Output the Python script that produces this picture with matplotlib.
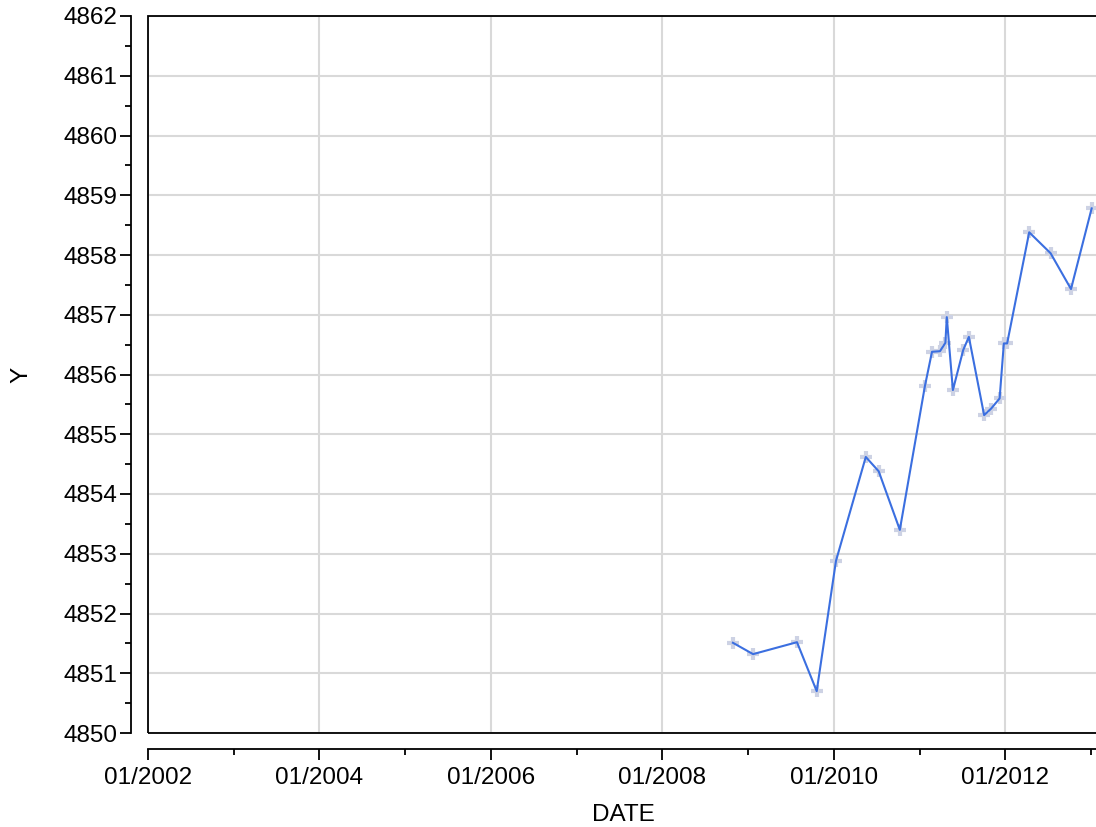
import numpy as np
import pandas as pd
import matplotlib
matplotlib.use("Agg")
import matplotlib.pyplot as plt
import matplotlib.dates as mdates
from matplotlib.patches import Rectangle

plt.rcParams['font.family'] = ['Liberation Sans', 'DejaVu Sans']

# values
dates = ["2008-10-27", "2009-01-21", "2009-07-27", "2009-10-19", "2010-01-09",
         "2010-05-16", "2010-07-10", "2010-10-08", "2011-01-23", "2011-02-22",
         "2011-03-28", "2011-04-20", "2011-04-26", "2011-05-22", "2011-07-05",
         "2011-07-29", "2011-10-02", "2011-11-01", "2011-12-07", "2011-12-25",
         "2012-01-08", "2012-04-11", "2012-07-11", "2012-10-06", "2013-01-02"]
y_vals = [4851.51, 4851.32, 4851.52, 4850.70, 4852.88,
          4854.62, 4854.38, 4853.40, 4855.81, 4856.38,
          4856.39, 4856.53, 4856.96, 4855.74, 4856.41,
          4856.63, 4855.32, 4855.43, 4855.60, 4856.52,
          4856.52, 4858.38, 4858.03, 4857.43, 4858.78]

x = pd.to_datetime(dates)
x_lo = pd.Timestamp("2002-01-01")
x_hi = pd.Timestamp("2013-01-29")
y_lo, y_hi = 4850, 4862

fig = plt.figure(figsize=(10.96, 8.27), dpi=100)
ax = fig.add_axes([148/1096, 1-733/827, 950/1096, 717/827])

ax.plot(x, y_vals, linestyle='none', marker='+', markersize=9, mew=3,
        color='#cdd2e4', zorder=2, clip_on=False)
ax.plot(x, y_vals, color='#3b6fe0', lw=1.5, zorder=3)

ax.set_xlim(x_lo, x_hi)
ax.set_ylim(y_lo, y_hi)

ax.xaxis.set_major_locator(mdates.YearLocator(2, month=1, day=1))
ax.xaxis.set_minor_locator(mdates.YearLocator(1, month=1, day=1))
ax.xaxis.set_major_formatter(mdates.DateFormatter('%m/%Y'))
ax.yaxis.set_major_locator(plt.MultipleLocator(1))
ax.yaxis.set_minor_locator(plt.MultipleLocator(0.5))

ax.grid(True, which='major', color='#d9d9d9', lw=1.5, zorder=0)
ax.set_axisbelow(True)

for s in ['top', 'right']:
    ax.spines[s].set_visible(False)
ax.spines['left'].set_position(('outward', 12.2))
ax.spines['bottom'].set_position(('outward', 11.5))
ax.spines['left'].set_bounds(y_lo, y_hi)
ax.spines['bottom'].set_bounds(mdates.date2num(x_lo), mdates.date2num(x_hi))
for s in ['left', 'bottom']:
    ax.spines[s].set_linewidth(1.3)

ax.add_patch(Rectangle((0, 0), 1, 1, transform=ax.transAxes, fill=False,
                       ec='black', lw=1.3, clip_on=False, zorder=5))

ax.tick_params(which='major', length=8, width=1.3, labelsize=17.5, color='black')
ax.tick_params(axis='x', which='major', pad=5)
ax.tick_params(axis='y', which='major', pad=2)
ax.tick_params(which='minor', length=4, width=1.3)

ax.set_xlabel('DATE', fontsize=17.5, labelpad=11)
ax.set_ylabel('Y', fontsize=17.5, labelpad=22)

fig.savefig('out.png', dpi=100)
